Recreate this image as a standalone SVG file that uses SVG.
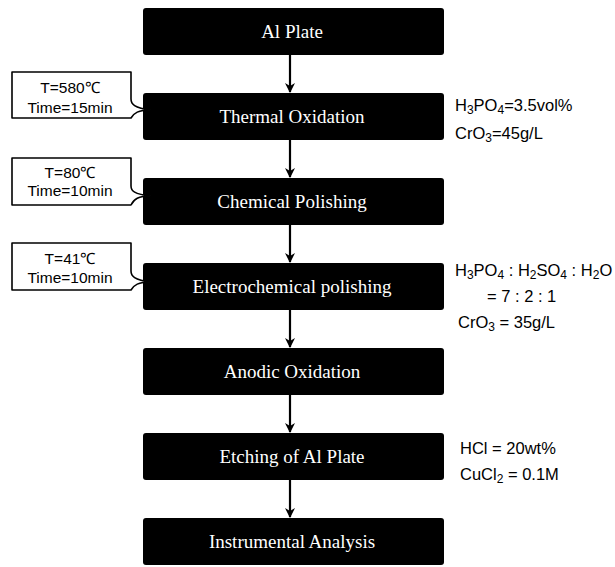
<svg xmlns="http://www.w3.org/2000/svg" width="615" height="567" viewBox="0 0 615 567">
<style>
.box{fill:#000;}
.bt{fill:#fff;font-family:"Liberation Serif","Times New Roman",serif;font-size:19px;text-anchor:middle;}
.call{fill:#fff;stroke:#000;stroke-width:1.6;stroke-linejoin:round;}
.ct{fill:#000;font-family:"Liberation Sans",Arial,sans-serif;font-size:15.5px;text-anchor:middle;}
.rt{fill:#000;font-family:"Liberation Sans",Arial,sans-serif;font-size:16.5px;}
.sub{font-size:12px;}
.conn{stroke:#000;stroke-width:2.2;fill:none;}
</style>
<defs>
<marker id="ah" markerWidth="10" markerHeight="12" refX="9" refY="5" orient="auto" markerUnits="userSpaceOnUse">
<path d="M0,0 L10,5 L0,10 L3,5 Z" fill="#000"/>
</marker>
</defs>
<g id="connectors">
<line class="conn" x1="290" y1="55" x2="290" y2="92" marker-end="url(#ah)"/>
<line class="conn" x1="290" y1="140" x2="290" y2="177" marker-end="url(#ah)"/>
<line class="conn" x1="290" y1="225" x2="290" y2="262" marker-end="url(#ah)"/>
<line class="conn" x1="290" y1="310" x2="290" y2="347" marker-end="url(#ah)"/>
<line class="conn" x1="290" y1="395" x2="290" y2="432" marker-end="url(#ah)"/>
<line class="conn" x1="290" y1="480" x2="290" y2="517" marker-end="url(#ah)"/>
</g>
<g id="n1"><rect class="box" x="143" y="8" width="301" height="47" rx="3"/><text class="bt" x="292" y="38">Al Plate</text></g>
<g id="n2"><rect class="box" x="143" y="93" width="301" height="47" rx="3"/><text class="bt" x="292" y="123">Thermal Oxidation</text></g>
<g id="n3"><rect class="box" x="143" y="178" width="301" height="47" rx="3"/><text class="bt" x="292" y="208">Chemical Polishing</text></g>
<g id="n4"><rect class="box" x="143" y="263" width="301" height="47" rx="3"/><text class="bt" x="292" y="293">Electrochemical polishing</text></g>
<g id="n5"><rect class="box" x="143" y="348" width="301" height="47" rx="3"/><text class="bt" x="292" y="378">Anodic Oxidation</text></g>
<g id="n6"><rect class="box" x="143" y="433" width="301" height="47" rx="3"/><text class="bt" x="292" y="463">Etching of Al Plate</text></g>
<g id="n7"><rect class="box" x="143" y="518" width="301" height="47" rx="3"/><text class="bt" x="292" y="548">Instrumental Analysis</text></g>
<g id="c1">
<path class="call" d="M12,72 H131 V99 C131,104 134,108 151,110 C138,110 134,113 131,118 H12 Z"/>
<text class="ct" x="70" y="93">T=580℃</text>
<text class="ct" x="70" y="113">Time=15min</text>
</g>
<g id="c2">
<path class="call" d="M12,158 H131 V186 C131,191 134,194 151,196 C138,196 134,199 131,205 H12 Z"/>
<text class="ct" x="70" y="178">T=80℃</text>
<text class="ct" x="70" y="196">Time=10min</text>
</g>
<g id="c3">
<path class="call" d="M12,243 H131 V271 C131,276 134,280 151,282 C138,282 134,285 131,290 H12 Z"/>
<text class="ct" x="70" y="264">T=41℃</text>
<text class="ct" x="70" y="283">Time=10min</text>
</g>
<g id="r1">
<text class="rt" x="455" y="111">H<tspan class="sub" dy="3">3</tspan><tspan dy="-3">PO</tspan><tspan class="sub" dy="3">4</tspan><tspan dy="-3">=3.5vol%</tspan></text>
<text class="rt" x="455" y="139">CrO<tspan class="sub" dy="3">3</tspan><tspan dy="-3">=45g/L</tspan></text>
</g>
<g id="r2">
<text class="rt" x="455" y="276">H<tspan class="sub" dy="3">3</tspan><tspan dy="-3">PO</tspan><tspan class="sub" dy="3">4</tspan><tspan dy="-3"> : H</tspan><tspan class="sub" dy="3">2</tspan><tspan dy="-3">SO</tspan><tspan class="sub" dy="3">4</tspan><tspan dy="-3"> : H</tspan><tspan class="sub" dy="3">2</tspan><tspan dy="-3">O</tspan></text>
<text class="rt" x="487" y="302">= 7 : 2 : 1</text>
<text class="rt" x="458" y="328">CrO<tspan class="sub" dy="3">3</tspan><tspan dy="-3"> = 35g/L</tspan></text>
</g>
<g id="r3">
<text class="rt" x="460" y="454">HCl = 20wt%</text>
<text class="rt" x="460" y="480">CuCl<tspan class="sub" dy="3">2</tspan><tspan dy="-3"> = 0.1M</tspan></text>
</g>
</svg>
